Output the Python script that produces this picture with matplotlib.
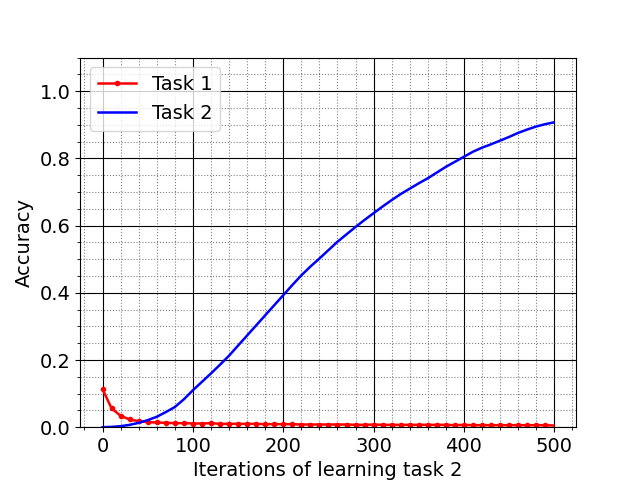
import numpy as np
import matplotlib
matplotlib.use('Agg')
import matplotlib.pyplot as plt

iterations = list(range(0, 500, 10)) + [499]

task1 = [0.113, 0.056, 0.034, 0.023, 0.018, 0.015, 0.014, 0.013, 0.012, 0.012,
         0.011, 0.011, 0.012, 0.010, 0.010, 0.010, 0.010, 0.010, 0.009, 0.009,
         0.009, 0.009, 0.008, 0.008, 0.008, 0.008, 0.008, 0.008, 0.007, 0.007,
         0.008, 0.007, 0.007, 0.007, 0.007, 0.007, 0.007, 0.007, 0.007, 0.006,
         0.007, 0.006, 0.006, 0.006, 0.006, 0.006, 0.006, 0.006, 0.006, 0.006,
         0.005]

task2 = [0.000, 0.001, 0.003, 0.007, 0.013, 0.021, 0.031, 0.045, 0.060, 0.083,
         0.110, 0.135, 0.160, 0.186, 0.213, 0.243, 0.273, 0.303, 0.333, 0.363,
         0.393, 0.423, 0.452, 0.478, 0.502, 0.527, 0.552, 0.574, 0.596, 0.617,
         0.637, 0.657, 0.676, 0.694, 0.710, 0.726, 0.741, 0.758, 0.775, 0.790,
         0.805, 0.820, 0.832, 0.842, 0.853, 0.864, 0.876, 0.886, 0.895, 0.902,
         0.907]

plt.rcParams['font.size'] = 14

fig, ax = plt.subplots(figsize=(6.4, 4.8), dpi=100)

ax.plot(iterations, task1, 'r.-', lw=1.8, label='Task 1',
        markevery=list(range(50)))
ax.plot(iterations, task2, 'b-', lw=1.8, label='Task 2')

ax.set_ylim(0, 1.1)
ax.set_xlabel('Iterations of learning task 2')
ax.set_ylabel('Accuracy')
ax.minorticks_on()
ax.grid(which='major', color='k', linestyle='-', linewidth=0.8)
ax.grid(which='minor', color='gray', linestyle=':', linewidth=0.8)
ax.legend(loc='upper left')

fig.savefig('out.png')
